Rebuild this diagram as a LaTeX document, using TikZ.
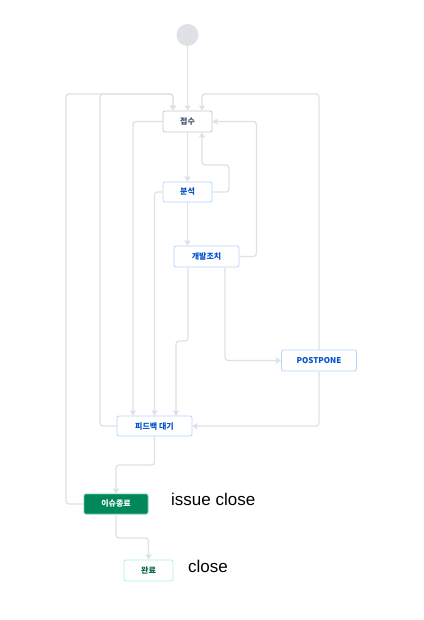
\documentclass[tikz,border=0pt]{standalone}
\usepackage{fontspec}
\setmainfont{Liberation Sans}
\newfontfamily\kr{Noto Sans CJK KR}
\usetikzlibrary{arrows.meta,calc}
\definecolor{ln}{HTML}{DFE1E6}
\definecolor{startc}{HTML}{DFE1E6}
\definecolor{greyb}{HTML}{C1C7D0}
\definecolor{greyt}{HTML}{42526E}
\definecolor{blueb}{HTML}{B3D4FF}
\definecolor{bluet}{HTML}{0052CC}
\definecolor{greenf}{HTML}{00875A}
\definecolor{greenb}{HTML}{ABF5D1}
\definecolor{greent}{HTML}{006644}
\begin{document}
\begin{tikzpicture}[x=1pt,y=-1pt,
  box/.style={draw, rounded corners=2pt, line width=0.8pt, minimum height=21pt, inner sep=0pt, fill=white,
    font=\kr\bfseries\fontsize{8}{9}\selectfont},
  greybox/.style={box, draw=greyb, text=greyt},
  bluebox/.style={box, draw=blueb, text=bluet},
  conn/.style={draw=ln, line width=1.3pt, rounded corners=3pt, -{Triangle[length=5pt,width=6pt]}},
  label/.style={anchor=west, inner sep=0pt, font=\fontsize{17}{20}\selectfont}]
\useasboundingbox (0,0) rectangle (423,620);
\node[circle, fill=startc, minimum size=22pt, inner sep=0pt] (start) at (187.5,35) {};
\node[greybox, minimum width=49pt] (jeobsu) at (187.5,121.5) {접수};
\node[bluebox, minimum width=49pt, minimum height=20pt] (bunseok) at (187.5,192) {분석};
\node[bluebox, minimum width=65pt] (dev) at (206.5,256.5) {개발조치};
\node[bluebox, minimum width=75pt] (pp) at (319,360.5) {POSTPONE};
\node[bluebox, minimum width=75pt, minimum height=20pt] (fb) at (154.5,426) {피드백 대기};
\node[box, draw=greenb!60!greenf, fill=greenf, text=white, minimum width=64pt, minimum height=20pt] (ij) at (116,504) {이슈종료};
\node[box, draw=greenb, text=greent, minimum width=49pt] (wanryo) at (148.5,570.5) {완료};
\node[label] (t1) at (171,499) {issue close};
\node[label] (t2) at (188,566) {close};

\draw[conn] (start) -- (jeobsu);
\draw[conn] (ij.west) -| (66,94) -| ([xshift=-14.5pt]jeobsu.north);
\draw[conn] (fb.west) -| (100,94) -| ([xshift=-14.5pt]jeobsu.north);
\draw[conn] (pp.north) -- (319,94) -| ([xshift=14.5pt]jeobsu.north);
\draw[conn] (pp.south) |- (fb.east);
\draw[conn] (jeobsu) -- (bunseok);
\draw[conn] (bunseok.east) -| (229,165) -| ([xshift=14.5pt]jeobsu.south);
\draw[conn] (bunseok.south) -- (bunseok.south |- dev.north);
\draw[conn] (dev.east) -| ($(jeobsu.east)+(44,0)$) -- (jeobsu.east);
\draw[conn] (jeobsu.west) -| ($(fb.north)+(-21.5,0)$);
\draw[conn] (bunseok.west) -| (fb.north);
\draw[conn] ([xshift=-18.5pt]dev.south) -- (188,341) -| ($(fb.north)+(21.5,0)$);
\draw[conn] ([xshift=18.5pt]dev.south) |- (pp.west);
\draw[conn] (fb.south) -- (154.5,465) -| (ij.north);
\draw[conn] (ij.south) -- (116,538) -| (wanryo.north);
\end{tikzpicture}
\end{document}
